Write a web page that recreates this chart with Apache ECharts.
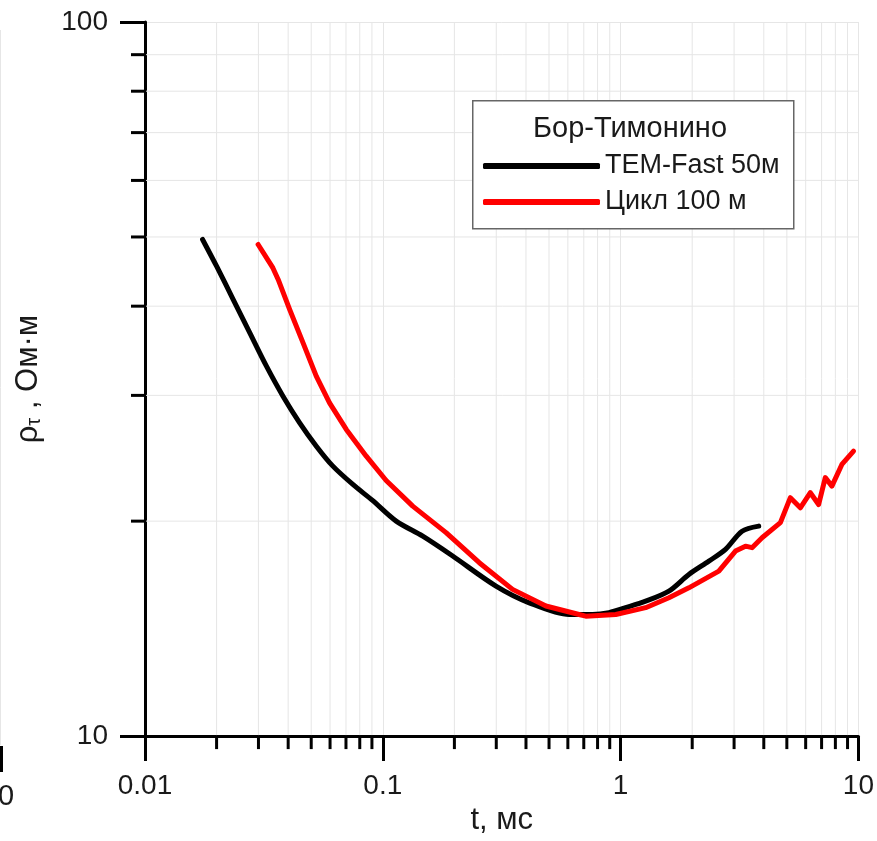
<!DOCTYPE html>
<html>
<head>
<meta charset="utf-8">
<script src="https://cdn.jsdelivr.net/npm/echarts@6/dist/echarts.min.js"></script>
<style>
html,body{margin:0;padding:0;background:#fff;}
#c{width:877px;height:841px;}
</style>
</head>
<body>
<div id="c"></div>
<script>
// ---- data ----
const blackName = 'TEM-Fast 50м';
const redName = 'Цикл 100 м';
const legendTitle = 'Бор-Тимонино';
const blackT = [0.01746,0.0200,0.02347,0.02759,0.03241,0.03804,0.0447,0.05254,0.06167,0.07482,0.0905,0.1138,0.1472,0.1967,0.2991,0.4127,0.6075,0.761,0.894,1.050,1.274,1.596,1.936,2.350,2.761,3.241,3.808];
const blackR = [49.6,45.5,40.9,36.7,32.96,29.92,27.46,25.47,23.88,22.51,21.38,20.0,19.05,17.87,16.22,15.37,14.80,14.80,14.89,15.13,15.45,15.96,16.84,17.58,18.26,19.36,19.68];
const redT = [0.0299,0.0345,0.0363,0.0406,0.0462,0.0525,0.0597,0.0702,0.0852,0.1033,0.1336,0.1845,0.2545,0.3512,0.4851,0.6689,0.7137,0.9537,1.274,1.596,1.936,2.588,3.041,3.35,3.57,3.932,4.697,5.173,5.698,6.277,6.80,7.256,7.735,8.518,9.537];
const redR = [48.8,45.25,43.6,39.56,35.54,31.92,29.29,26.88,24.66,22.8,20.99,19.27,17.49,16.05,15.21,14.80,14.72,14.80,15.13,15.62,16.13,17.02,18.16,18.45,18.36,18.96,19.90,21.57,20.88,21.92,21.10,23.01,22.39,24.01,25.06];
const xMinor = [0.02,0.03,0.04,0.05,0.06,0.07,0.08,0.09,0.2,0.3,0.4,0.5,0.6,0.7,0.8,0.9,2,3,4,5,6,7,8,9];
const yMinor = [20,30,40,50,60,70,80,90];
const xMin = 0.01, xMax = 10, yMin = 10, yMax = 100;

const FONT = '"Liberation Sans", Arial, sans-serif';
const GRID_COLOR = '#e6e6e6';
const TXT = '#1a1a1a';

const chart = echarts.init(document.getElementById('c'), null, {renderer:'canvas'});

function xMinorItem(params, api){
  const v = api.value(0);
  const p = api.coord([v, yMin]);
  const q = api.coord([v, yMax]);
  return {type:'group', children:[
    {type:'line', shape:{x1:p[0],y1:q[1],x2:p[0],y2:p[1]-1}, style:{stroke:GRID_COLOR,lineWidth:1}},
    {type:'line', shape:{x1:p[0],y1:p[1],x2:p[0],y2:p[1]+13}, style:{stroke:'#000',lineWidth:3}}
  ]};
}
function yMinorItem(params, api){
  const v = api.value(1);
  const p = api.coord([xMin, v]);
  const q = api.coord([xMax, v]);
  return {type:'group', children:[
    {type:'line', shape:{x1:p[0]+1,y1:p[1],x2:q[0],y2:p[1]}, style:{stroke:GRID_COLOR,lineWidth:1}},
    {type:'line', shape:{x1:p[0]-14,y1:p[1],x2:p[0],y2:p[1]}, style:{stroke:'#000',lineWidth:3}}
  ]};
}

const option = {
  animation:false,
  backgroundColor:'#fff',
  textStyle:{fontFamily:FONT},
  grid:{left:145, right:17, top:22, bottom:104, containLabel:false},
  xAxis:{
    type:'log', logBase:10, min:xMin, max:xMax,
    name:'t, мс', nameLocation:'middle', nameGap:66,
    nameTextStyle:{fontSize:31, color:TXT, fontFamily:FONT},
    axisLine:{lineStyle:{color:'#000', width:3}},
    axisTick:{show:true, length:25, lineStyle:{color:'#000', width:3}},
    axisLabel:{margin:36, fontSize:28, color:TXT, fontFamily:FONT,
      formatter:function(v){return String(+Number(v).toPrecision(3));}},
    splitLine:{show:true, lineStyle:{color:GRID_COLOR, width:1}},
    minorTick:{show:false}, minorSplitLine:{show:false}
  },
  yAxis:{
    type:'log', logBase:10, min:yMin, max:yMax,
    name:'{r|ρ}{s|τ}{r| , Ом·м}', nameLocation:'middle', nameGap:101, nameRotate:90,
    nameTextStyle:{rich:{
      r:{fontSize:31, color:TXT, fontFamily:FONT},
      s:{fontSize:20, color:TXT, fontFamily:FONT, padding:[12,0,0,0]}
    }},
    axisLine:{lineStyle:{color:'#000', width:3}},
    axisTick:{show:true, length:25, lineStyle:{color:'#000', width:3}},
    axisLabel:{margin:37, fontSize:28, color:TXT, fontFamily:FONT,
      formatter:function(v){return String(+Number(v).toPrecision(3));}},
    splitLine:{show:true, lineStyle:{color:GRID_COLOR, width:1}},
    minorTick:{show:false}, minorSplitLine:{show:false}
  },
  legend:{
    data:[blackName, redName],
    orient:'vertical', left:483, top:150, padding:0, itemGap:4, z:20,
    icon:'roundRect', itemWidth:117, itemHeight:6,
    textStyle:{fontSize:27, lineHeight:32, color:TXT, fontFamily:FONT}
  },
  graphic:[
    {type:'rect', left:472, top:100, shape:{width:321, height:128}, style:{fill:'#fff', stroke:'#666', lineWidth:1.5}, z:4},
    {type:'text', left:533, top:114, style:{text:legendTitle, fontSize:29, fill:TXT, fontFamily:FONT}, z:5},
    {type:'rect', left:0, top:746, shape:{width:3, height:26}, style:{fill:'#000'}, z:6},
    {type:'line', shape:{x1:0.5,y1:30,x2:0.5,y2:745}, style:{stroke:'#e6e6e6', lineWidth:1}, z:6},
    {type:'text', left:-2, top:782, style:{text:'0', fontSize:29, fill:TXT, fontFamily:FONT}, z:6}
  ],
  series:[
    {type:'custom', name:'xminor', renderItem:xMinorItem, clip:false, silent:true, z:1,
      data:xMinor.map(v=>[v, yMin])},
    {type:'custom', name:'yminor', renderItem:yMinorItem, clip:false, silent:true, z:1,
      data:yMinor.map(v=>[xMin, v])},
    {type:'line', name:blackName, data:blackT.map((t,i)=>[t, blackR[i]]), showSymbol:false, symbol:'none', smooth:0.3,
      lineStyle:{color:'#000', width:5, cap:'round', join:'round'}, itemStyle:{color:'#000'}, z:3},
    {type:'line', name:redName, data:redT.map((t,i)=>[t, redR[i]]), showSymbol:false, symbol:'none',
      lineStyle:{color:'#ff0000', width:5, cap:'round', join:'round'}, itemStyle:{color:'#ff0000'}, z:3}
  ]
};
chart.setOption(option);
</script>
</body>
</html>
